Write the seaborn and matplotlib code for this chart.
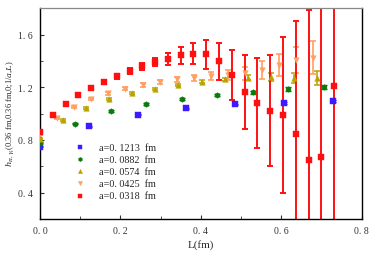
import numpy as np
import pandas as pd
import matplotlib
matplotlib.use("Agg")
import matplotlib.pyplot as plt
import seaborn as sns
from matplotlib.ticker import MultipleLocator, FixedLocator

# ---- data ----
labels = ["a=0. 1213  fm", "a=0. 0882  fm", "a=0. 0574  fm", "a=0. 0425  fm", "a=0. 0318  fm"]
spacings = [0.1213, 0.0882, 0.0574, 0.0425, 0.0318]

y_0121 = [0.747, 0.905, 0.991, 1.040, 1.070, 1.082, 1.093]
e_0121 = [0.004, 0.004, 0.005, 0.005, 0.006, 0.007, 0.008]

y_0088 = [0.780, 0.923, 1.019, 1.075, 1.113, 1.141, 1.161, 1.186, 1.204]
e_0088 = [0.004, 0.005, 0.006, 0.007, 0.008, 0.009, 0.011, 0.013, 0.016]

y_0057 = [0.810, 0.951, 1.044, 1.110, 1.154, 1.189, 1.219, 1.242, 1.260, 1.272, 1.275, 1.272, 1.270]
e_0057 = [0.004, 0.005, 0.006, 0.007, 0.007, 0.008, 0.009, 0.010, 0.012, 0.020, 0.030, 0.038, 0.050]

y_0043 = [0.844, 0.963, 1.052, 1.110, 1.154, 1.189, 1.217, 1.240, 1.262, 1.272, 1.283, 1.293,
          1.305, 1.331, 1.369, 1.407, 1.425]
e_0043 = [0.005, 0.006, 0.008, 0.009, 0.010, 0.012, 0.014, 0.016, 0.019, 0.022, 0.030, 0.038,
          0.050, 0.067, 0.083, 0.100, 0.124]

y_0032 = [0.857, 0.986, 1.075, 1.141, 1.196, 1.242, 1.283, 1.323, 1.359, 1.392, 1.414, 1.443,
          1.455, 1.450, 1.397, 1.293, 1.166, 1.082, 1.021, 0.989, 0.844, 0.646, 0.669, 1.207]
e_0032 = [0.006, 0.008, 0.010, 0.012, 0.013, 0.015, 0.017, 0.020, 0.025, 0.030, 0.045, 0.065,
          0.080, 0.110, 0.140, 0.190, 0.280, 0.340, 0.420, 0.590, 0.860, 1.140, 1.300, 1.200]

series_y = [y_0121, y_0088, y_0057, y_0043, y_0032]
series_e = [e_0121, e_0088, e_0057, e_0043, e_0032]

rows = []
for lab, a, ys, es in zip(labels, spacings, series_y, series_e):
    for n, (yv, ev) in enumerate(zip(ys, es)):
        rows.append({"series": lab, "L": n * a, "h": yv, "err": ev})
df = pd.DataFrame(rows)

colors = ["#3a1cff", "#0a7a0a", "#b8a400", "#ff9f60", "#ff1010"]
markers = ["s", "h", "^", "v", "s"]
msizes = [14, 16, 16, 16, 14]
elw = [0.8, 1.0, 1.1, 1.2, 1.4]

sns.set_style("ticks")
plt.rcParams["font.family"] = ["Liberation Serif", "DejaVu Serif"]
plt.rcParams["mathtext.fontset"] = "dejavuserif"

fig = plt.figure(figsize=(3.74, 2.55), dpi=100)
ax = fig.add_axes([0.107, 0.137, 0.860, 0.827])

for lab, c, m, s, lw in zip(labels, colors, markers, msizes, elw):
    d = df[df["series"] == lab]
    ax.errorbar(d["L"], d["h"], yerr=d["err"], fmt="none", ecolor=c,
                elinewidth=lw, capsize=2.0, capthick=lw, zorder=2)
    sns.scatterplot(data=d, x="L", y="h", color=c, marker=m, s=s,
                    edgecolor=c, linewidth=0.3, ax=ax, label=lab, zorder=3)

ax.set_xlim(0, 0.8)
ax.set_ylim(0.2, 1.8)
ax.xaxis.set_major_locator(FixedLocator([0.0, 0.2, 0.4, 0.6, 0.8]))
ax.xaxis.set_minor_locator(MultipleLocator(0.1))
ax.yaxis.set_major_locator(FixedLocator([0.4, 0.8, 1.2, 1.6]))
ax.yaxis.set_minor_locator(FixedLocator([0.2, 0.6, 1.0, 1.4, 1.8]))
ax.set_xticklabels(["0. 0", "0. 2", "0. 4", "0. 6", "0. 8"])
ax.set_yticklabels(["0. 4", "0. 8", "1. 2", "1. 6"])
ax.tick_params(which="both", direction="in", labelsize=7, colors="#333333",
               top=False, right=False, pad=5)
ax.tick_params(which="major", length=3, width=0.8)
ax.tick_params(which="minor", length=2, width=0.6)

for sp in ["left", "bottom", "right"]:
    ax.spines[sp].set_color("black")
    ax.spines[sp].set_linewidth(1.0)
ax.spines["top"].set_color("#888888")
ax.spines["top"].set_linewidth(0.9)
ax.spines["top"].set_visible(True)
ax.spines["right"].set_visible(True)

ax.set_xlabel("L(fm)", fontsize=8, labelpad=3)
ax.set_ylabel(r"$h_{\pi,\gamma_t}$(0.36 fm,0.36 fm,0;1/$a$,$L$)", fontsize=6.0, labelpad=3)
ax.yaxis.set_label_coords(-0.075, 0.505)

leg = ax.legend(loc="lower left", bbox_to_anchor=(0.08, 0.07), frameon=False,
                fontsize=7.3, handletextpad=0.9, labelspacing=0.3, borderaxespad=0,
                markerscale=0.75)

fig.savefig("out.png", dpi=100)
